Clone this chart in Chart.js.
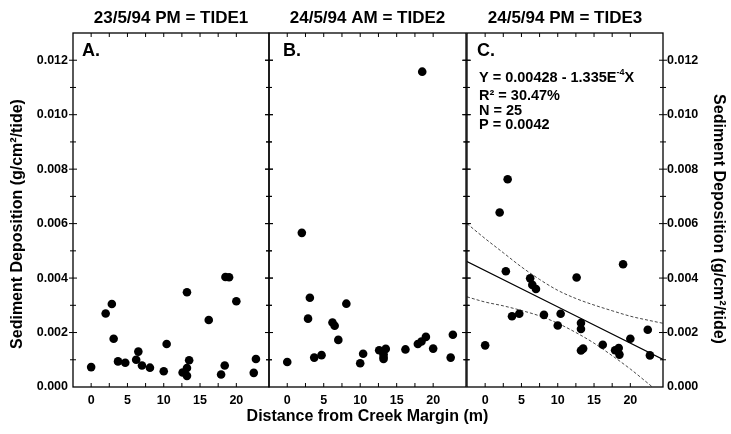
<!DOCTYPE html>
<html>
<head>
<meta charset="utf-8">
<script src="https://cdn.jsdelivr.net/npm/chart.js@4.4.1/dist/chart.umd.min.js"></script>
<style>
body{margin:0;background:#fff;}
#wrap{position:relative;width:731px;height:434px;overflow:hidden;background:#fff;}
canvas{position:absolute;top:0;}
</style>
</head>
<body>
<div id="wrap">
<canvas id="tide1" width="275" height="434" style="left:0px"></canvas>
<canvas id="tide2" width="407" height="434" style="left:164px"></canvas>
<canvas id="tide3" width="270" height="434" style="left:461px"></canvas>
</div>
<script>
// distance of each sampling site from the creek margin (m)
var distance = [0, 2.0, 2.85, 3.1, 3.7, 4.7, 6.2, 6.5, 7.0, 8.1, 10.0, 10.4, 12.6, 13.2, 13.2, 13.2, 13.5, 16.2, 17.9, 18.4, 18.5, 19.0, 20.0, 22.4, 22.7];

// sediment deposition (g/cm2/tide) per site, one array per tide
var tide1 = [0.00073, 0.00270, 0.00305, 0.00177, 0.00094, 0.00089, 0.00100, 0.00130, 0.00079, 0.00071, 0.00058, 0.00158, 0.00053, 0.00070, 0.00041, 0.00348, 0.00098, 0.00246, 0.00046, 0.00079, 0.00404, 0.00403, 0.00315, 0.00052, 0.00103];
var tide2 = [0.00092, 0.00566, 0.00251, 0.00328, 0.00108, 0.00117, 0.00237, 0.00225, 0.00173, 0.00306, 0.00087, 0.00122, 0.00135, 0.00120, 0.00103, 0.00110, 0.00140, 0.00138, 0.00158, 0.00167, 0.01158, 0.00184, 0.00141, 0.00108, 0.00192];
var tide3 = [0.00153, 0.00641, 0.00425, 0.00763, 0.00260, 0.00269, 0.00399, 0.00375, 0.00360, 0.00265, 0.00226, 0.00269, 0.00402, 0.00235, 0.00213, 0.00134, 0.00141, 0.00155, 0.00135, 0.00143, 0.00119, 0.00451, 0.00177, 0.00210, 0.00116];

// regression line for tide 3 and its confidence band
var fitX = [-2.5, 24.5];
var fitY = [0.00461, 0.00101];
var bandX = [-2.5, 0, 2.5, 5, 7.5, 10, 12.5, 15, 17.5, 20, 22.5, 24.5];
var bandUpper = [0.00600, 0.00545, 0.00493, 0.00441, 0.00395, 0.00355, 0.00325, 0.00301, 0.00280, 0.00260, 0.00245, 0.00234];
var bandLower = [0.00331, 0.00312, 0.00298, 0.00281, 0.00261, 0.00234, 0.00200, 0.00161, 0.00115, 0.00066, 0.00012, -0.00032];

var titles = ["23/5/94 PM = TIDE1", "24/5/94 AM = TIDE2", "24/5/94 PM = TIDE3"];
var letters = ["A.", "B.", "C."];
var statsText = ["R\u00b2 = 30.47%", "N = 25", "P = 0.0042"];
var yTitle = "Sediment Deposition (g/cm\u00b2/tide)";
var xTitle = "Distance from Creek Margin (m)";

var FONT = '"Liberation Sans", Arial, Helvetica, sans-serif';

function pairs(xs, ys){
    return xs.map(function(x, i){ return {x: x, y: ys[i]}; });
}

var framePlugin = {
    id: 'frame',
    afterDraw: function(chart){
        var ctx = chart.ctx, a = chart.chartArea;
        var xs = chart.scales.x, ys = chart.scales.y;
        var opt = chart.options.plugins.frame;
        ctx.save();
        ctx.strokeStyle = '#000';
        ctx.lineWidth = 1.3;
        ctx.strokeRect(a.left, a.top, a.right - a.left, a.bottom - a.top);
        ctx.lineWidth = 1;
        ctx.beginPath();
        xs.ticks.forEach(function(t){
            var px = xs.getPixelForValue(t.value);
            if (px <= a.left + 2 || px >= a.right - 2) return;
            ctx.moveTo(px, a.top); ctx.lineTo(px, a.top + 4);
            ctx.moveTo(px, a.bottom); ctx.lineTo(px, a.bottom - 4);
        });
        ys.ticks.forEach(function(t){
            var py = ys.getPixelForValue(t.value);
            if (py <= a.top + 2 || py >= a.bottom - 2) return;
            var len = Math.round(t.value * 1000) % 2 === 0 ? 4 : 3;
            ctx.moveTo(a.left - len, py); ctx.lineTo(a.left + len, py);
            ctx.moveTo(a.right - len, py); ctx.lineTo(a.right + len, py);
        });
        ctx.stroke();

        ctx.fillStyle = '#000';
        ctx.textBaseline = 'middle';
        ctx.textAlign = 'left';
        ctx.font = 'bold 18px ' + FONT;
        ctx.fillText(opt.letter, a.left + opt.letterX, a.top + 18);

        if (opt.equation) {
            var x0 = a.left + 12, y0 = a.top + 45;
            ctx.font = 'bold 14.5px ' + FONT;
            var s1 = 'Y = 0.00428 - 1.335E';
            ctx.fillText(s1, x0, y0);
            var w1 = ctx.measureText(s1).width;
            ctx.font = 'bold 9px ' + FONT;
            ctx.fillText('-4', x0 + w1, y0 - 5);
            var w2 = ctx.measureText('-4').width;
            ctx.font = 'bold 14.5px ' + FONT;
            ctx.fillText('X', x0 + w1 + w2, y0);
            statsText.forEach(function(s, i){
                ctx.fillText(s, x0, y0 + 18 + i * 14.5);
            });
        }

        // axis titles
        ctx.font = 'bold 16px ' + FONT;
        ctx.textAlign = 'center';
        var midY = (a.top + a.bottom) / 2 + 14;
        if (opt.yTitle === 'left') {
            ctx.save();
            ctx.translate(a.left - 55, midY);
            ctx.rotate(-Math.PI / 2);
            ctx.fillText(yTitle, 0, 0);
            ctx.restore();
        } else if (opt.yTitle === 'right') {
            ctx.save();
            ctx.translate(a.right + 55, midY - 5);
            ctx.rotate(Math.PI / 2);
            ctx.fillText(yTitle, 0, 0);
            ctx.restore();
        }
        if (opt.xTitle) {
            ctx.fillText(xTitle, (a.left + a.right) / 2, a.bottom + 30);
        }
        ctx.restore();
    }
};

function makePanel(id, idx, datasets, side){
    var tickFont = {family: FONT, size: 12.5, weight: 'bold'};
    var pad = {top: 0, bottom: 0, left: 0, right: 0};
    if (idx === 0) pad.right = 6;
    if (idx === 1) { pad.left = 105; pad.right = 105; }
    if (idx === 2) pad.left = 5;

    var yAxis = {
        type: 'linear',
        position: side === 'right' ? 'right' : 'left',
        min: 0,
        max: 0.013,
        afterFit: function(s){ s.width = side === 'left' ? 73 : (side === 'right' ? 68 : 0); },
        grid: {display: false, drawTicks: false},
        border: {display: false},
        ticks: {
            display: side !== 'none',
            stepSize: 0.001,
            autoSkip: false,
            padding: side === 'right' ? 4 : 5,
            color: '#000',
            font: tickFont,
            callback: function(v){
                var k = Math.round(v * 1000);
                return k % 2 === 0 ? (k / 1000).toFixed(3) : '';
            }
        }
    };

    var xAxis = {
        type: 'linear',
        min: -2.5,
        max: 24.5,
        afterFit: function(s){ s.height = 47; },
        grid: {display: false, drawTicks: false},
        border: {display: false},
        ticks: {
            stepSize: 2.5,
            autoSkip: false,
            maxRotation: 0,
            padding: 6,
            color: '#000',
            font: tickFont,
            callback: function(v){
                var k = Math.round(v * 10);
                return (k >= 0 && k % 50 === 0 && k <= 200) ? String(k / 10) : '';
            }
        }
    };

    return new Chart(document.getElementById(id).getContext('2d'), {
        type: 'scatter',
        data: {datasets: datasets},
        options: {
            responsive: false,
            animation: false,
            layout: {padding: pad},
            plugins: {
                legend: {display: false},
                tooltip: {enabled: false},
                title: {
                    display: true,
                    text: titles[idx],
                    fullSize: false,
                    color: '#000',
                    font: {family: FONT, size: 17, weight: 'bold'},
                    padding: {top: 7.8, bottom: 4.8}
                },
                frame: {
                    letter: letters[idx],
                    letterX: [9, 14, 10][idx],
                    equation: idx === 2,
                    yTitle: side,
                    xTitle: idx === 1
                }
            },
            scales: {x: xAxis, y: yAxis}
        },
        plugins: [framePlugin]
    });
}

function pointSet(values){
    return {
        data: pairs(distance, values),
        pointRadius: 4.3,
        pointBackgroundColor: '#000',
        pointBorderWidth: 0,
        showLine: false
    };
}

function lineSet(xs, ys, dashed){
    return {
        data: pairs(xs, ys),
        showLine: true,
        pointRadius: 0,
        borderColor: dashed ? '#333' : '#000',
        borderWidth: dashed ? 0.9 : 1.2,
        borderDash: dashed ? [3, 2] : [],
        cubicInterpolationMode: 'monotone',
        fill: false
    };
}

makePanel('tide1', 0, [pointSet(tide1)], 'left');
makePanel('tide2', 1, [pointSet(tide2)], 'none');
makePanel('tide3', 2, [
    pointSet(tide3),
    lineSet(fitX, fitY, false),
    lineSet(bandX, bandUpper, true),
    lineSet(bandX, bandLower, true)
], 'right');
</script>
</body>
</html>
